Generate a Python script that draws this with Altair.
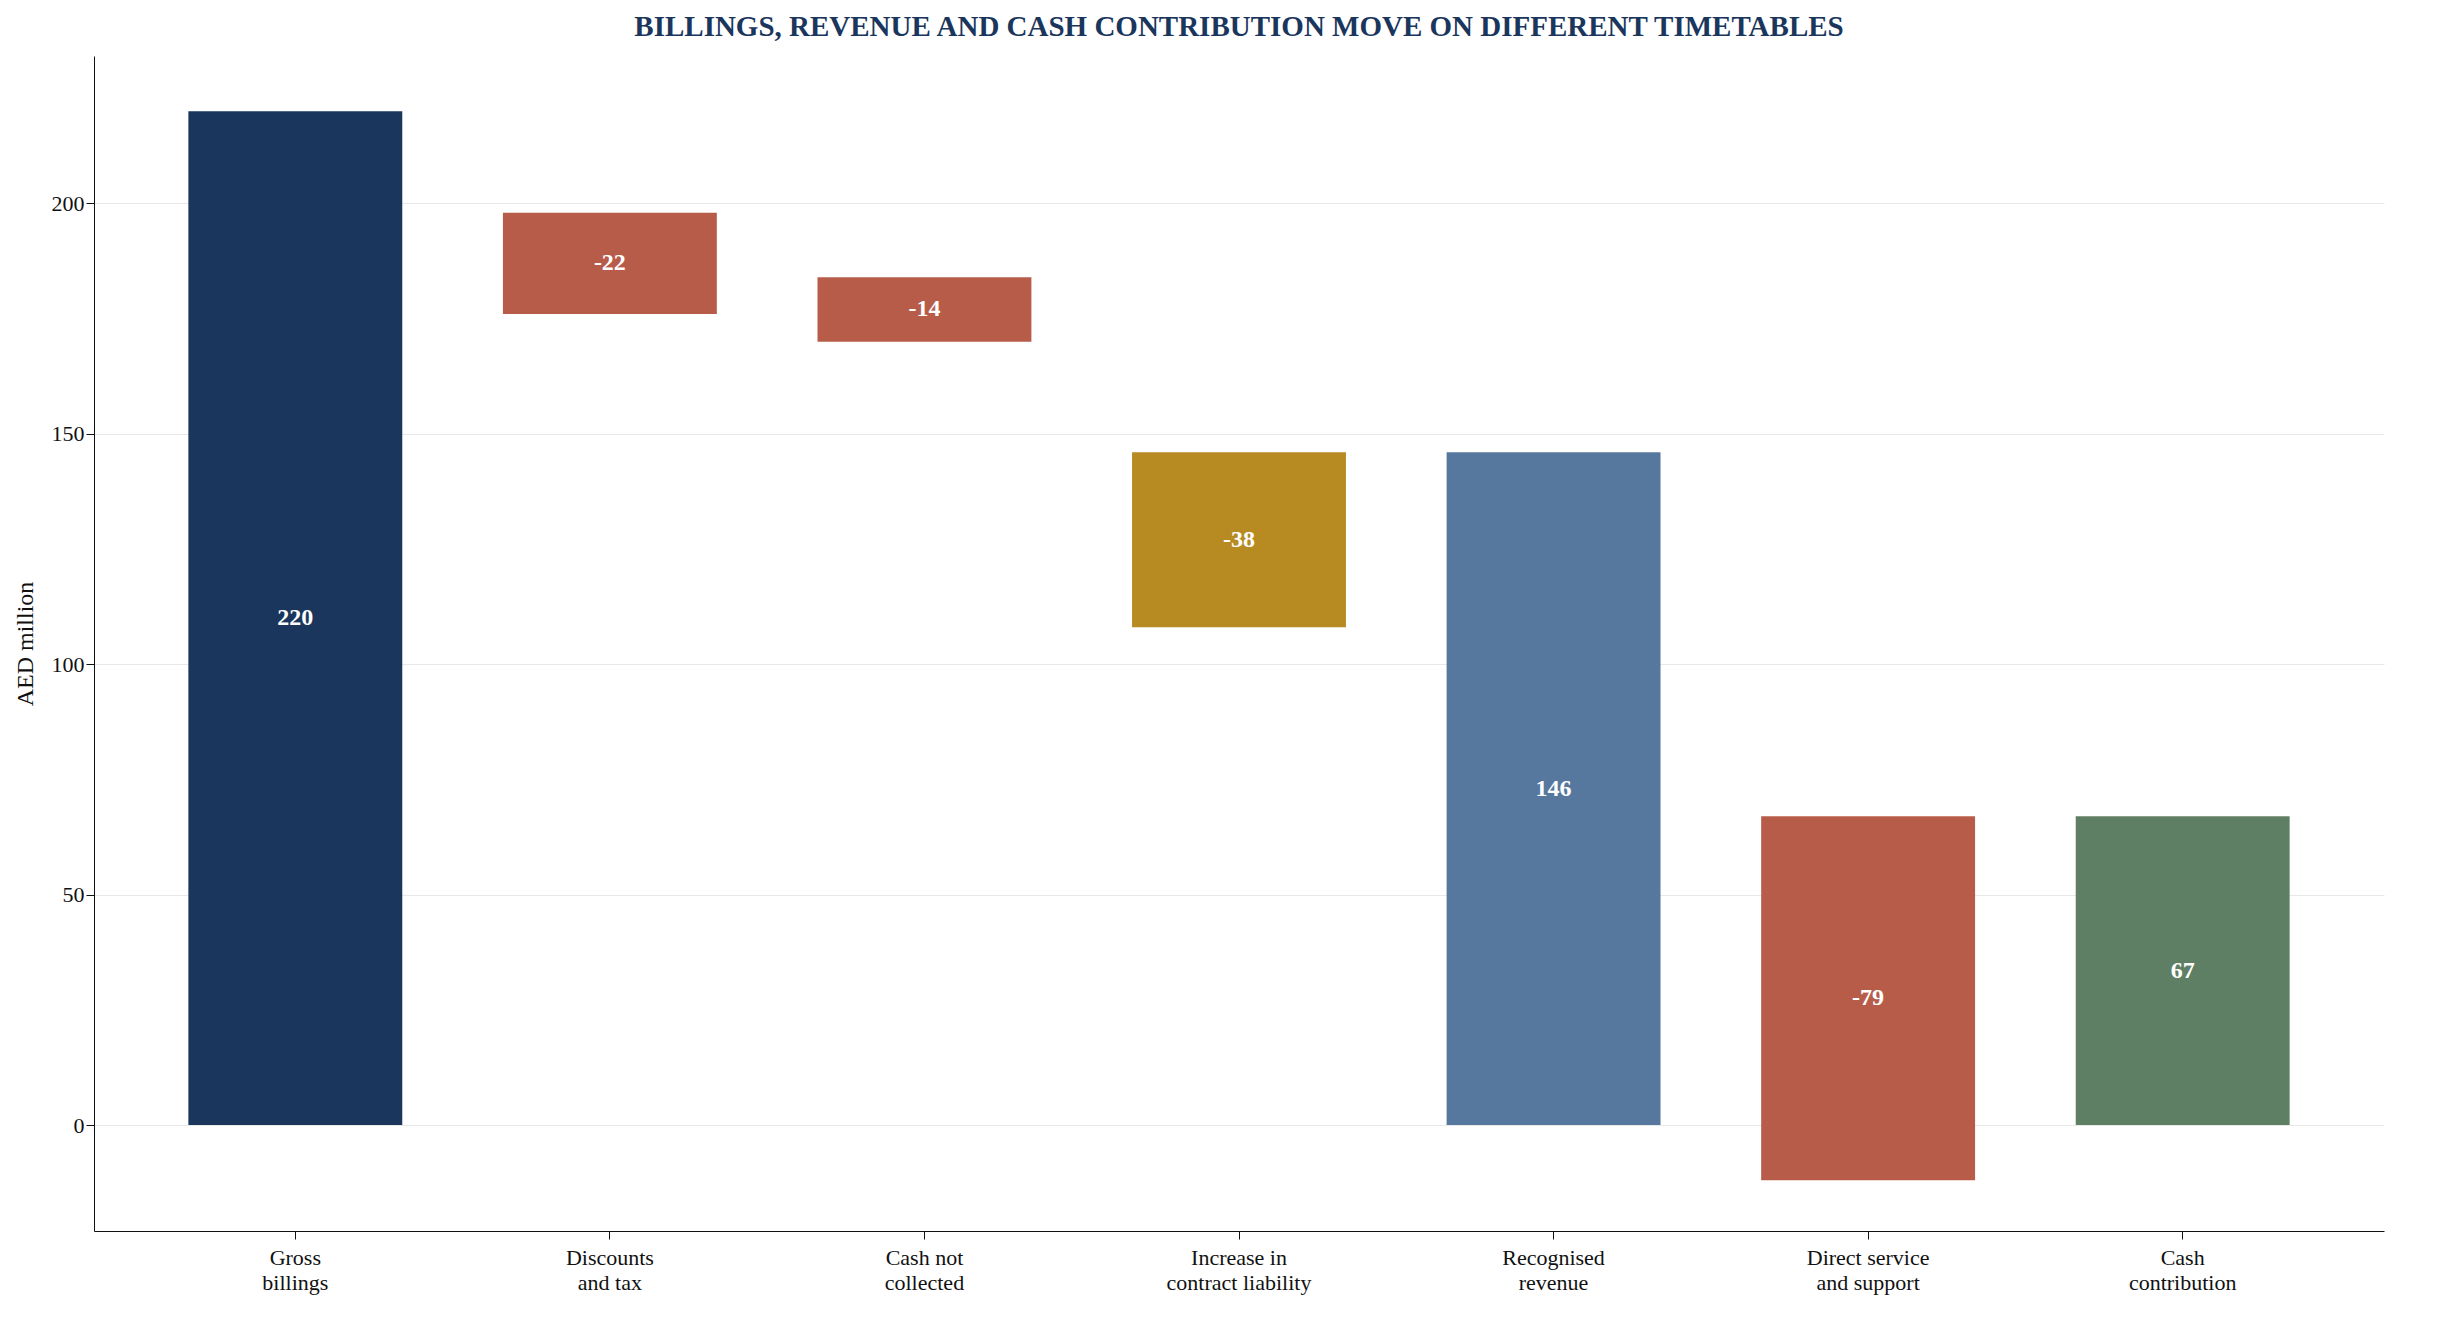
import altair as alt
import pandas as pd

categories = ["Gross\nbillings", "Discounts\nand tax", "Cash not\ncollected", "Increase in\ncontract liability",
              "Recognised\nrevenue", "Direct service\nand support", "Cash\ncontribution"]
starts = [0, 198, 184, 146, 0, 67, 0]
ends = [220, 176, 170, 108, 146, -12, 67]
labels = ["220", "-22", "-14", "-38", "146", "-79", "67"]
colors = ["#1a365d", "#b85c4a", "#b85c4a", "#b88a22", "#56779e", "#b85c4a", "#5f7f64"]

df = pd.DataFrame({"cat": categories, "start": starts, "end": ends, "label": labels, "color": colors})
df["mid"] = (df["start"] + df["end"]) / 2

FONT = "Liberation Serif"
x = alt.X("cat:N", sort=categories, title=None,
          scale=alt.Scale(paddingInner=0.32, paddingOuter=0.3),
          axis=alt.Axis(labelAngle=0, labelExpr="split(datum.label, '\\n')", labelFontSize=22,
                        labelColor="#111", tickColor="#111", domainColor="#111", labelPadding=8,
                        tickSize=8, grid=False, labelLineHeight=25))

base = alt.Chart(df)
bars = base.mark_bar().encode(
    x=x,
    y=alt.Y("start:Q", title="AED million", scale=alt.Scale(domain=[-23, 232], nice=False),
            axis=alt.Axis(values=[0, 50, 100, 150, 200], labelFontSize=22, titleFontSize=24,
                          titleFontWeight="normal", labelColor="#111", titleColor="#111",
                          tickColor="#111", domainColor="#111", gridColor="#e8e8e8", tickSize=8,
                          titlePadding=14)),
    y2="end:Q",
    color=alt.Color("color:N", scale=None),
)
text = base.mark_text(color="white", fontWeight="bold", fontSize=24, font=FONT).encode(
    x=alt.X("cat:N", sort=categories), y="mid:Q", text="label:N")

chart = (bars + text).properties(
    width=2290, height=1175,
    title=alt.Title("BILLINGS, REVENUE AND CASH CONTRIBUTION MOVE ON DIFFERENT TIMETABLES",
                    fontSize=29, font=FONT, fontWeight="bold", color="#1a365d", anchor="middle", offset=14),
).configure(font=FONT).configure_view(stroke=None)

chart.save("out.html", embed_options={"renderer": "svg", "actions": False})
